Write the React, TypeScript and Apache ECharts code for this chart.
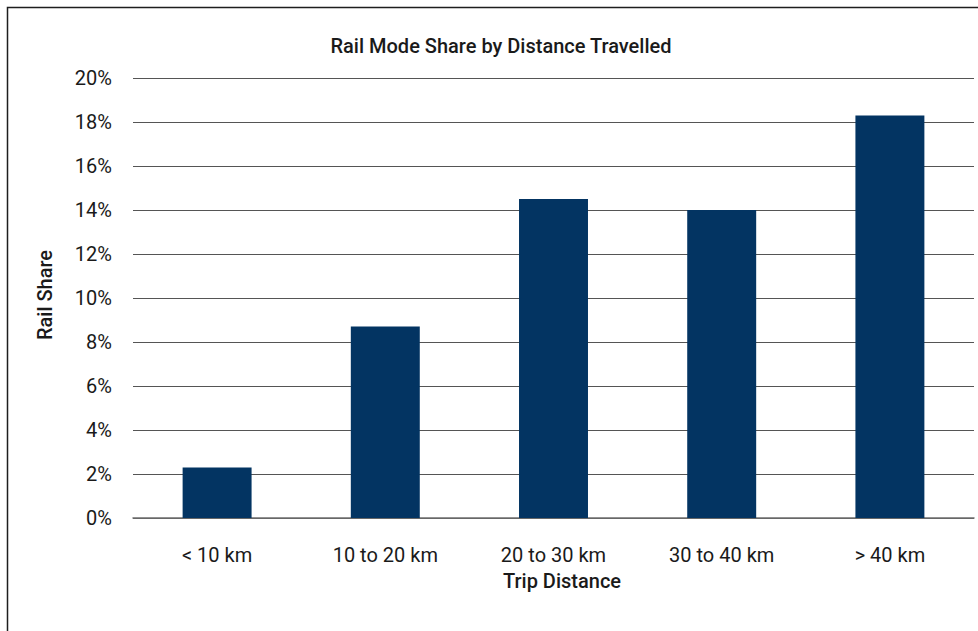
import React, { useEffect, useRef } from "react";
import * as echarts from "echarts";

// Rail share of trips, in percent, by trip distance band
const categories = ["< 10 km", "10 to 20 km", "20 to 30 km", "30 to 40 km", "> 40 km"];
const railShare = [2.3, 8.7, 14.5, 14.0, 18.3];
const yTicks = { min: 0, max: 20, interval: 2 };

const titleText = "Rail Mode Share by Distance Travelled";
const xAxisTitle = "Trip Distance";
const yAxisTitle = "Rail Share";

const FONT = "Roboto, 'Liberation Sans', sans-serif";

export default function App() {
  const ref = useRef<HTMLDivElement>(null);

  useEffect(() => {
    if (!ref.current) return;
    const chart = echarts.init(ref.current, undefined, { renderer: "svg" });
    chart.setOption({
      animation: false,
      backgroundColor: "#ffffff",
      grid: { left: 133, right: 4, top: 78, bottom: 113, containLabel: false },
      xAxis: {
        type: "category",
        data: categories,
        axisLine: { show: true, lineStyle: { color: "#6e6e6e", width: 1.5 } },
        axisTick: { show: false },
        axisLabel: {
          color: "#1a1a1a",
          fontFamily: FONT,
          fontSize: 20,
          margin: 27,
        },
      },
      yAxis: {
        type: "value",
        min: yTicks.min,
        max: yTicks.max,
        interval: yTicks.interval,
        axisLine: { show: false },
        axisTick: { show: false },
        splitLine: { show: true, lineStyle: { color: "#555555", width: 1.2 } },
        axisLabel: {
          formatter: "{value}%",
          color: "#1a1a1a",
          fontFamily: FONT,
          fontSize: 20,
          margin: 21,
        },
      },
      series: [
        {
          type: "bar",
          data: railShare,
          barWidth: "41%",
          itemStyle: { color: "#033462" },
        },
      ],
      graphic: [
        {
          type: "rect",
          shape: { x: 7.5, y: 7.5, width: 1000, height: 700 },
          style: { fill: "none", stroke: "#1e1e1e", lineWidth: 1.5 },
          silent: true,
        },
        {
          type: "text",
          x: 501,
          y: 46,
          style: {
            text: titleText,
            align: "center",
            verticalAlign: "middle",
            fill: "#1a1a1a",
            font: `500 20px ${FONT}`,
          },
        },
        {
          type: "text",
          x: 562,
          y: 581,
          style: {
            text: xAxisTitle,
            align: "center",
            verticalAlign: "middle",
            fill: "#1a1a1a",
            font: `500 20px ${FONT}`,
          },
        },
        {
          type: "text",
          x: 45,
          y: 295,
          rotation: Math.PI / 2,
          style: {
            text: yAxisTitle,
            align: "center",
            verticalAlign: "middle",
            fill: "#1a1a1a",
            font: `500 20px ${FONT}`,
          },
        },
      ],
    });
    return () => chart.dispose();
  }, []);

  return (
    <div
      ref={ref}
      style={{ position: "absolute", left: 0, top: 0, width: 978, height: 631 }}
    />
  );
}
